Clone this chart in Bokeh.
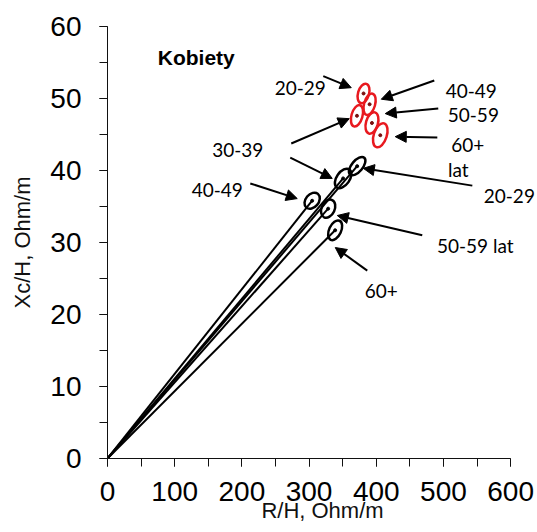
from bokeh.plotting import figure
from bokeh.models import (Range1d, SingleIntervalTicker, Arrow, NormalHead,
                          LabelSet, Label, ColumnDataSource)
from bokeh.core.properties import value
from bokeh.embed import file_html
from bokeh.resources import INLINE
import math

# ---- data -------------------------------------------------------------
ages = ["20-29", "30-39", "40-49", "50-59", "60+"]

# black group (vectors from origin)
r_black = [371.6, 350.7, 304.6, 328.4, 338.8]
xc_black = [40.6, 38.9, 35.8, 34.7, 31.7]
ell_black_major = [22, 22, 18, 19, 21]
ell_black_minor = [11, 13, 13, 13, 12]
ell_black_angle_deg = [50, 55, 50, 65, 65]

# red group
r_red = [381.1, 371.3, 390.1, 393.6, 406.0]
xc_red = [50.7, 47.6, 49.2, 46.6, 44.9]
ell_red_major = [20, 22, 22, 22, 25]
ell_red_minor = [11, 11, 11, 12, 13]
ell_red_angle_deg = [74, 74, 74, 74, 72]

# annotation labels (data coords)
label_text = ["20-29", "30-39", "40-49", "50-59", "60+", "lat",
              "20-29", "40-49", "50-59 lat", "60+"]
label_x = [286.9, 193.8, 541.5, 544.5, 536.3, 522.1, 598.1, 163.3, 547.4, 407.5]
label_y = [51.4, 42.8, 51.1, 47.7, 43.5, 40.1, 36.4, 37.3, 29.6, 23.3]

# arrows (data coords)
arrow_x0 = [321.1, 273.5, 486.4, 492.3, 490.9, 272.0, 212.5, 543.0, 468.5, 386.6]
arrow_y0 = [53.1, 43.75, 52.5, 48.6, 44.6, 41.8, 38.2, 37.9, 31.0, 26.1]
arrow_x1 = [362.8, 359.8, 407.5, 413.4, 428.3, 334.5, 282.4, 380.7, 342.0, 339.0]
arrow_y1 = [51.5, 47.2, 49.9, 47.9, 44.7, 38.9, 36.1, 40.3, 33.75, 29.3]

title_text = "Kobiety"
title_x, title_y = 132.1, 55.7

x_ticks_interval = 100
y_ticks_interval = 10
x_axis_max = 600

# ---- figure -----------------------------------------------------------
p = figure(width=537, height=532, x_range=Range1d(0, 640), y_range=Range1d(0, 60),
           output_backend="svg", toolbar_location=None,
           min_border_left=107, min_border_right=0, min_border_top=26,
           min_border_bottom=74)
p.outline_line_color = None
p.grid.visible = False
p.background_fill_color = "white"
p.border_fill_color = "white"

p.xaxis.ticker = SingleIntervalTicker(interval=x_ticks_interval, num_minor_ticks=2)
p.yaxis.ticker = SingleIntervalTicker(interval=y_ticks_interval, num_minor_ticks=2)
p.xaxis.bounds = (0, x_axis_max)
for ax in p.axis:
    ax.major_tick_in = 0
    ax.major_tick_out = 8
    ax.minor_tick_in = 0
    ax.minor_tick_out = 8
    ax.axis_line_color = "#111111"
    ax.major_tick_line_color = "#111111"
    ax.minor_tick_line_color = "#111111"
    ax.major_label_text_font = "Liberation Sans"
    ax.major_label_text_font_size = "28px"
    ax.major_label_text_color = "black"
    ax.axis_label_text_font = "Liberation Sans"
    ax.axis_label_text_font_size = "22px"
    ax.axis_label_text_font_style = "normal"
    ax.axis_label_text_color = "#111111"

p.xaxis.axis_label = "R/H, Ohm/m"
p.yaxis.axis_label = "Xc/H, Ohm/m"
p.xaxis.major_label_standoff = 15
p.xaxis.axis_label_standoff = -6
p.yaxis.major_label_standoff = 18
p.yaxis.axis_label_standoff = 12

# vectors from origin
black_src = ColumnDataSource(dict(
    x0=[0] * len(r_black), y0=[0] * len(r_black), x=r_black, y=xc_black,
    w=ell_black_major, h=ell_black_minor,
    a=[math.radians(d) for d in ell_black_angle_deg]))
p.segment(x0="x0", y0="y0", x1="x", y1="y", source=black_src,
          line_color="black", line_width=2)
p.ellipse(x="x", y="y", width="w", height="h", angle="a", source=black_src,
          width_units="screen", height_units="screen",
          fill_color=None, line_color="black", line_width=2.5)
p.scatter(x="x", y="y", source=black_src, size=3, color="black")

red_src = ColumnDataSource(dict(
    x=r_red, y=xc_red, w=ell_red_major, h=ell_red_minor,
    a=[math.radians(d) for d in ell_red_angle_deg]))
p.ellipse(x="x", y="y", width="w", height="h", angle="a", source=red_src,
          width_units="screen", height_units="screen",
          fill_color=None, line_color="#E8191F", line_width=2.5)
p.scatter(x="x", y="y", source=red_src, size=3, color="#7a1010")

# arrows
arrow_src = ColumnDataSource(dict(x0=arrow_x0, y0=arrow_y0, x1=arrow_x1, y1=arrow_y1))
p.add_layout(Arrow(x_start="x0", y_start="y0", x_end="x1", y_end="y1",
                   source=arrow_src, line_color="black", line_width=2,
                   end=NormalHead(size=11, fill_color="black", line_color="black")))

# labels
lab_src = ColumnDataSource(dict(x=label_x, y=label_y, t=label_text))
p.add_layout(LabelSet(x="x", y="y", text="t", source=lab_src,
                      text_font=value("Lato"), text_font_size="19px",
                      text_align="center", text_baseline="middle",
                      text_color="black"))
p.add_layout(Label(x=title_x, y=title_y, text=title_text,
                   text_font="Liberation Sans", text_font_size="21px",
                   text_font_style="bold", text_align="center",
                   text_baseline="middle", text_color="black"))

open("out.html", "w").write(file_html(p, INLINE))
